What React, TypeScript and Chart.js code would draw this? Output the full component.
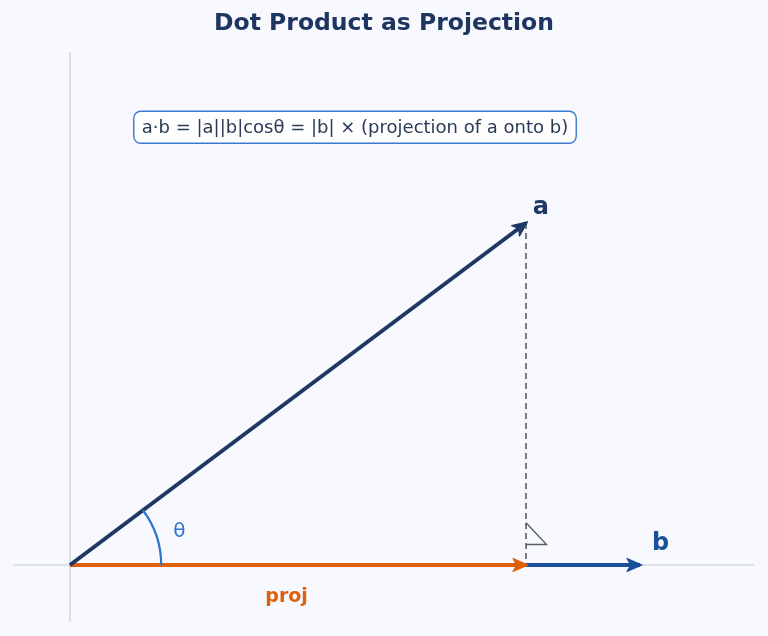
import React, { useEffect, useRef } from "react";
import { Chart, registerables } from "chart.js";

Chart.register(...registerables);

const vecA = [4, 3];
const vecB = [5, 0];
const vecProj = [4, 0];
const xRange = [-0.5, 6];
const yRange = [-0.5, 4.5];
const rightAngleMark = [
  [4, 0.37],
  [4.18, 0.18],
  [4, 0.18],
];
const arcRadius = 0.8;
const labelTexts = ["a", "b", "θ", "proj"];
const labelPos = [
  [4.13, 3.135],
  [5.18, 0.19],
  [0.96, 0.29],
  [1.9, -0.28],
];
const formulaText = "a·b = |a||b|cosθ = |b| × (projection of a onto b)";
const formulaPos = [2.5, 3.84];
const titleText = "Dot Product as Projection";

const NAVY = "#1f3864";
const BLUE = "#1a4f9c";
const ORANGE = "#e0600a";
const ARC = "#2f74d0";
const BG = "#f7f9fe";
const FONT = "'DejaVu Sans', sans-serif";

export default function App() {
  const ref = useRef<HTMLCanvasElement | null>(null);
  useEffect(() => {
    document.body.style.margin = "0";
    document.body.style.background = BG;
    const canvas = ref.current!;
    const pt = (p: number[]) => ({ x: p[0], y: p[1] });

    const bgPlugin = {
      id: "bg",
      beforeDraw(chart: any) {
        const c = chart.ctx;
        c.save();
        c.fillStyle = BG;
        c.fillRect(0, 0, chart.width, chart.height);
        c.restore();
      },
    };

    const drawArrowHead = (c: CanvasRenderingContext2D, x0: number, y0: number, x1: number, y1: number, color: string) => {
      const ang = Math.atan2(y1 - y0, x1 - x0);
      const L = 15, W = 6.5;
      c.save();
      c.fillStyle = color;
      c.strokeStyle = color;
      c.lineWidth = 1.2;
      c.lineJoin = "round";
      c.beginPath();
      c.moveTo(x1, y1);
      c.lineTo(x1 - L * Math.cos(ang) + W * Math.sin(ang), y1 - L * Math.sin(ang) - W * Math.cos(ang));
      c.lineTo(x1 - L * 0.75 * Math.cos(ang), y1 - L * 0.75 * Math.sin(ang));
      c.lineTo(x1 - L * Math.cos(ang) - W * Math.sin(ang), y1 - L * Math.sin(ang) + W * Math.cos(ang));
      c.closePath();
      c.fill();
      c.stroke();
      c.restore();
    };

    const overlay = {
      id: "overlay",
      afterDatasetsDraw(chart: any) {
        const c: CanvasRenderingContext2D = chart.ctx;
        const xs = chart.scales.x, ys = chart.scales.y;
        const px = (v: number) => xs.getPixelForValue(v);
        const py = (v: number) => ys.getPixelForValue(v);
        const ox = px(0), oy = py(0);

        const heads: [number[], string][] = [
          [vecB, BLUE],
          [vecProj, ORANGE],
          [vecA, NAVY],
        ];
        heads.forEach(([v, col]) => {
          const ex = px(v[0]), ey = py(v[1]);
          const ang = Math.atan2(ey - oy, ex - ox);
          const tx = ex + 2 * Math.cos(ang), ty = ey + 2 * Math.sin(ang);
          drawArrowHead(c, ox, oy, tx, ty, col);
        });

        const r = px(arcRadius) - ox;
        const theta = Math.atan2(vecA[1], vecA[0]);
        c.save();
        c.strokeStyle = ARC;
        c.lineWidth = 2.2;
        c.beginPath();
        c.arc(ox, oy, r, -theta, 0);
        c.stroke();
        c.restore();

        const styles = [
          { font: `bold 24px ${FONT}`, color: NAVY },
          { font: `bold 24px ${FONT}`, color: BLUE },
          { font: `20px ${FONT}`, color: ARC },
          { font: `bold 19px ${FONT}`, color: ORANGE },
        ];
        c.save();
        c.textAlign = "center";
        c.textBaseline = "middle";
        labelTexts.forEach((t, i) => {
          c.font = styles[i].font;
          c.fillStyle = styles[i].color;
          c.fillText(t, px(labelPos[i][0]), py(labelPos[i][1]));
        });

        c.font = `18px ${FONT}`;
        const fx = px(formulaPos[0]), fy = py(formulaPos[1]);
        const w = c.measureText(formulaText).width + 16;
        const h = 32;
        c.beginPath();
        (c as any).roundRect(fx - w / 2, fy - h / 2, w, h, 7);
        c.fillStyle = "#ffffff";
        c.fill();
        c.strokeStyle = "#3a78d0";
        c.lineWidth = 1.4;
        c.stroke();
        c.fillStyle = "#2a3a55";
        c.fillText(formulaText, fx, fy + 1);

        c.font = `bold 23.5px ${FONT}`;
        c.fillStyle = "#1e3560";
        c.fillText(titleText, chart.width / 2, 24);
        c.restore();
      },
    };

    const chart = new Chart(canvas, {
      type: "scatter",
      data: {
        datasets: [
          {
            data: [pt([xRange[0], 0]), pt([xRange[1], 0])],
            showLine: true,
            borderColor: "#c8ccd4",
            borderWidth: 1.2,
            pointRadius: 0,
            order: 7,
          },
          {
            data: [pt([0, yRange[0]]), pt([0, yRange[1]])],
            showLine: true,
            borderColor: "#c8ccd4",
            borderWidth: 1.2,
            pointRadius: 0,
            order: 6,
          },
          {
            data: [pt(vecA), pt(vecProj)],
            showLine: true,
            borderColor: "#555b66",
            borderWidth: 1.6,
            borderDash: [6, 4],
            pointRadius: 0,
            order: 5,
          },
          {
            data: rightAngleMark.map(pt),
            showLine: true,
            borderColor: "#555b66",
            borderWidth: 1.3,
            pointRadius: 0,
            order: 4,
          },
          {
            data: [pt([0, 0]), pt(vecB)],
            showLine: true,
            borderColor: BLUE,
            borderWidth: 4,
            pointRadius: 0,
            order: 3,
          },
          {
            data: [pt([0, 0]), pt(vecProj)],
            showLine: true,
            borderColor: ORANGE,
            borderWidth: 4,
            pointRadius: 0,
            order: 2,
          },
          {
            data: [pt([0, 0]), pt(vecA)],
            showLine: true,
            borderColor: NAVY,
            borderWidth: 4,
            pointRadius: 0,
            order: 1,
          },
        ],
      },
      options: {
        animation: false,
        responsive: false,
        maintainAspectRatio: false,
        layout: { padding: { left: 13, right: 14, top: 52, bottom: 14 } },
        plugins: {
          legend: { display: false },
          title: { display: false },
          tooltip: { enabled: false },
        },
        elements: { line: { tension: 0, borderCapStyle: "butt" } },
        scales: {
          x: { type: "linear", min: xRange[0], max: xRange[1], display: false },
          y: { type: "linear", min: yRange[0], max: yRange[1], display: false },
        },
      },
      plugins: [bgPlugin, overlay],
    });
    return () => chart.destroy();
  }, []);
  return <canvas ref={ref} width={768} height={636} style={{ display: "block", width: 768, height: 636 }} />;
}
